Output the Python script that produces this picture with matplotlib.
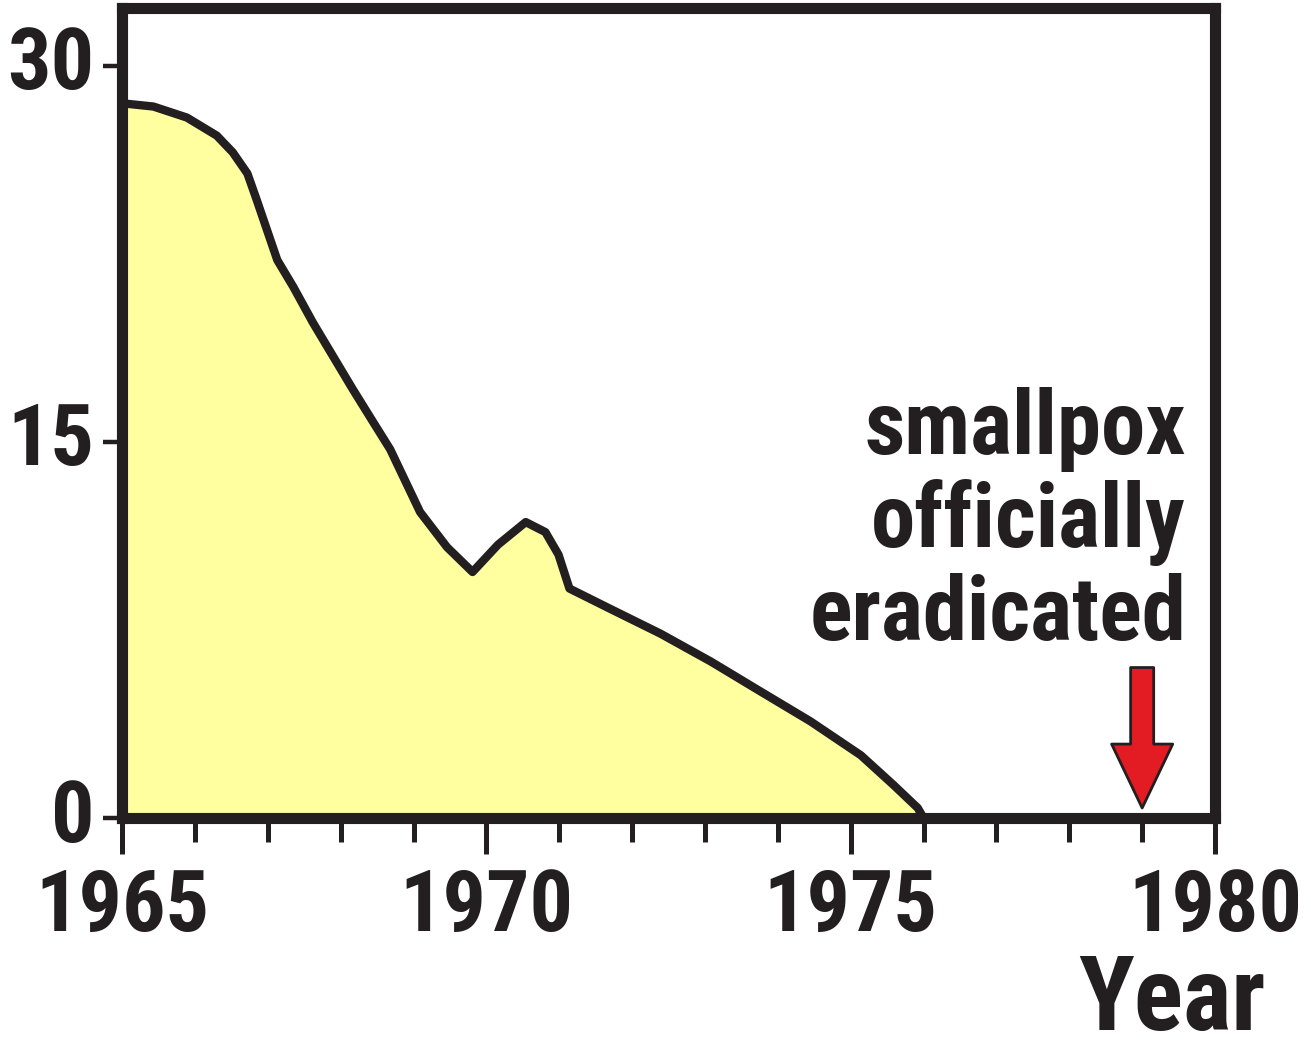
"""Smallpox cases by year, down to eradication."""

import matplotlib.pyplot as plt
from matplotlib import font_manager
from matplotlib.ticker import MultipleLocator

# curve (year, value)
years = [1965.0, 1965.43, 1965.89, 1966.30, 1966.52, 1966.72, 1966.85, 1966.99,
         1967.13, 1967.35, 1967.62, 1967.90, 1968.17, 1968.45, 1968.68, 1969.09,
         1969.46, 1969.81, 1970.16, 1970.54, 1970.81, 1970.99, 1971.14, 1971.70,
         1972.39, 1973.08, 1973.76, 1974.45, 1975.14, 1975.59, 1975.92, 1976.0,
         1980.0]
cases = [28.5, 28.37, 27.93, 27.21, 26.54, 25.70, 24.63, 23.44,
         22.25, 21.18, 19.75, 18.39, 17.08, 15.77, 14.70, 12.2,
         10.8, 9.81, 10.9, 11.8, 11.4, 10.5, 9.15, 8.34,
         7.35, 6.24, 5.05, 3.85, 2.50, 1.31, 0.40, 0.0,
         0.0]

yticks = [0, 15, 30]
xticks = [1965, 1970, 1975, 1980]
eradicated_year = 1979
note = "smallpox\nofficially\neradicated"

INK = "#231f20"
FILL = "#ffff9f"
RED = "#e31b23"

# prefer a condensed face, the original lettering is narrow
installed = {f.name for f in font_manager.fontManager.ttflist}
narrow = [n for n in ("Roboto Condensed", "Liberation Sans Narrow",
                      "Open Sans Condensed") if n in installed]
if narrow:
    family, scale = narrow[0], 1.0
else:
    family, scale = "Liberation Sans", 0.86
plt.rcParams["font.family"] = [family, "DejaVu Sans"]
plt.rcParams["font.weight"] = "bold"

fig = plt.figure(figsize=(13.11, 10.49), dpi=100)
ax = fig.add_axes([0.0931, 0.2202, 0.8337, 0.7722])

ax.fill_between(years, cases, 0, color=FILL, lw=0, zorder=1)
ax.plot(years, cases, color=INK, lw=6, solid_joinstyle="round",
        solid_capstyle="butt", zorder=2)

ax.set_xlim(1965, 1980)
ax.set_ylim(0, 32.3)

for s in ax.spines.values():
    s.set_linewidth(8)
    s.set_color(INK)
    s.set_zorder(3)

ax.set_xticks(xticks)
ax.xaxis.set_minor_locator(MultipleLocator(1))
ax.set_yticks(yticks)
ax.tick_params(axis="x", which="major", length=26, width=3.6, color=INK,
               pad=9, labelsize=62 * scale, labelcolor=INK)
ax.tick_params(axis="x", which="minor", length=17, width=3.6, color=INK)
ax.tick_params(axis="y", which="major", length=14, width=3.2, color=INK,
               pad=6, labelsize=62 * scale, labelcolor=INK)
for lab in ax.get_yticklabels():
    lab.set_verticalalignment("center")

ax.text(1979.6, 7.1, note, ha="right", va="baseline", fontsize=64 * scale,
        color=INK, linespacing=1.1)

ax.annotate("", xy=(eradicated_year, 0.4), xytext=(eradicated_year, 6.0),
            arrowprops=dict(arrowstyle="simple,head_length=2.3,head_width=2.2,tail_width=0.83",
                            mutation_scale=20, fc=RED, ec=INK, lw=2,
                            shrinkA=0, shrinkB=0),
            zorder=4)

fig.text(0.965, 0.018, "Year", ha="right", va="baseline", fontsize=74 * scale, color=INK)

fig.savefig("out.png", dpi=100, facecolor="white")
plt.close(fig)
